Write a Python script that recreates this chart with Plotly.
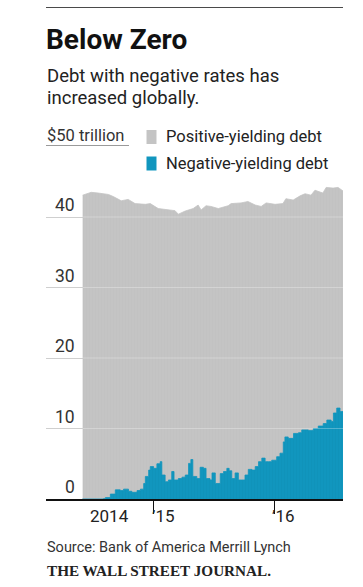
import plotly.graph_objects as go

# ---- data ----
total_dates = [
    "2014-05-30", "2014-06-25", "2014-07-16", "2014-08-16", "2014-08-31",
    "2014-09-24", "2014-10-15", "2014-11-05", "2014-12-06", "2014-12-21",
    "2015-01-14", "2015-02-13", "2015-03-06", "2015-03-16", "2015-04-06",
    "2015-04-30", "2015-05-15", "2015-05-24", "2015-06-08", "2015-06-23",
    "2015-07-15", "2015-08-14", "2015-08-23", "2015-09-22", "2015-10-13",
    "2015-11-04", "2015-11-22", "2015-12-07", "2016-01-03", "2016-01-27",
    "2016-02-05", "2016-02-27", "2016-03-19", "2016-04-03", "2016-04-21",
    "2016-05-03", "2016-05-27", "2016-06-06", "2016-06-27", "2016-07-12",
    "2016-07-27",
]
total_debt = [
    43.1, 43.5, 43.4, 43.2, 42.9,
    42.3, 42.5, 41.9, 41.8, 41.9,
    41.2, 41.0, 40.9, 40.4, 40.85,
    41.2, 41.7, 41.0, 41.6, 41.5,
    41.2, 41.6, 41.9, 42.0, 42.2,
    41.7, 41.5, 42.0, 41.8, 41.9,
    42.6, 42.4, 43.0, 43.3, 43.1,
    43.8, 43.4, 44.2, 44.1, 44.2,
    43.7,
]

neg_dates = [
    "2014-05-29", "2014-08-01", "2014-08-07", "2014-08-22", "2014-09-06",
    "2014-09-21", "2014-10-01", "2014-10-16", "2014-10-26", "2014-11-11",
    "2014-11-21", "2014-12-01", "2014-12-06", "2014-12-16", "2014-12-21",
    "2014-12-31", "2015-01-10", "2015-01-20", "2015-01-25", "2015-02-04",
    "2015-02-14", "2015-02-24", "2015-03-03", "2015-03-16", "2015-03-27",
    "2015-04-06", "2015-04-16", "2015-04-23", "2015-04-29", "2015-05-11",
    "2015-05-21", "2015-05-31", "2015-06-08", "2015-06-20", "2015-06-26",
    "2015-07-06", "2015-07-21", "2015-07-31", "2015-08-10", "2015-08-17",
    "2015-08-25", "2015-09-04", "2015-09-14", "2015-09-24", "2015-10-04",
    "2015-10-14", "2015-10-25", "2015-11-04", "2015-11-14", "2015-11-24",
    "2015-12-04", "2015-12-14", "2015-12-24", "2016-01-08", "2016-01-18",
    "2016-01-28", "2016-02-02", "2016-02-12", "2016-02-28", "2016-03-14",
    "2016-03-24", "2016-04-13", "2016-04-28", "2016-05-13", "2016-05-28",
    "2016-06-08", "2016-06-21", "2016-06-28", "2016-07-08", "2016-07-18",
    "2016-07-27",
]
negative_debt = [
    0.0, 0.05, 0.2, 0.7, 1.3,
    1.2, 1.4, 1.1, 0.95, 1.2,
    1.4, 2.2, 3.2, 4.1, 4.6,
    4.35, 5.0, 5.3, 3.4, 2.45,
    2.7, 3.9, 2.7, 2.9, 3.1,
    3.4, 5.05, 5.6, 3.2, 2.9,
    4.5, 4.35, 2.9, 2.7, 3.7,
    2.2, 3.6, 3.9, 4.35, 4.0,
    2.9, 3.7, 2.7, 2.7, 3.4,
    4.2, 4.1, 4.6, 5.3, 5.8,
    5.3, 5.3, 5.5, 6.0, 6.5,
    8.1, 8.8, 8.6, 9.3, 9.4,
    9.8, 9.7, 10.0, 10.35, 10.7,
    11.2, 11.0, 12.2, 12.9, 12.4,
    12.2,
]

y_tick_values = [0, 10, 20, 30, 40]
y_tick_labels = ["0", "10", "20", "30", "40"]
x_tick_dates = ["2015-01-01", "2016-01-01"]
x_label_dates = ["2014-08-18", "2015-01-15", "2016-01-15"]
x_labels = ["2014", "\u201915", "\u201916"]

# ---- layout geometry (pixels) ----
W, H = 363, 587
L, R, T, B = 46, 20, 180, 88
PW, PH = W - L - R, H - T - B


def px(x):
    return (x - L) / PW


def py(y):
    return (H - B - y) / PH


GRAY = "#c4c4c4"
BLUE = "#1196be"
FONT = "Roboto"

fig = go.Figure()
fig.add_trace(go.Scatter(
    x=total_dates, y=total_debt, mode="lines", fill="tozeroy",
    line=dict(color=GRAY, width=0.8), fillcolor=GRAY,
    fillpattern=dict(shape="|", size=3, solidity=0.2,
                     fgcolor="#bbbbbb", bgcolor=GRAY, fillmode="overlay"),
    hoverinfo="skip", name="Positive-yielding debt",
))
fig.add_trace(go.Scatter(
    x=neg_dates, y=negative_debt, mode="lines", fill="tozeroy",
    line=dict(color=BLUE, width=0.8, shape="hv"), fillcolor=BLUE,
    fillpattern=dict(shape="|", size=3, solidity=0.2,
                     fgcolor="#0c8bb2", bgcolor=BLUE, fillmode="overlay"),
    hoverinfo="skip", name="Negative-yielding debt",
))

shapes = []
# top rule
shapes.append(dict(type="line", xref="paper", yref="paper",
                   x0=px(46), x1=px(343), y0=py(7.5), y1=py(7.5),
                   line=dict(color="#4a4a4a", width=1.2)))
# underline under unit label
shapes.append(dict(type="line", xref="paper", yref="paper",
                   x0=px(46), x1=px(129), y0=py(145.5), y1=py(145.5),
                   line=dict(color="#9a9a9a", width=1)))
# legend swatches
shapes.append(dict(type="rect", xref="paper", yref="paper",
                   x0=px(146.5), x1=px(156.5), y0=py(130), y1=py(144),
                   fillcolor=GRAY, line=dict(width=0)))
shapes.append(dict(type="rect", xref="paper", yref="paper",
                   x0=px(146.5), x1=px(156.5), y0=py(156.5), y1=py(170.5),
                   fillcolor=BLUE, line=dict(width=0)))
# faint gridlines over the data
for v in y_tick_values[1:]:
    shapes.append(dict(type="line", xref="x", yref="y",
                       x0=total_dates[0], x1=total_dates[-1], y0=v, y1=v,
                       line=dict(color="rgba(255,255,255,0.28)", width=1),
                       layer="above"))

ann = []


def text(x, y, s, size, color="#222", anchor="left", family=FONT, yanchor="middle"):
    ann.append(dict(xref="paper", yref="paper", x=px(x), y=py(y), text=s,
                    showarrow=False, xanchor=anchor, yanchor=yanchor,
                    font=dict(family=family, size=size, color=color)))


text(44, 39, "<b>Below Zero</b>", 28, "#111")
text(45, 76, "Debt with negative rates has", 18.5, "#222")
text(45, 98, "increased globally.", 18.5, "#222")
text(45, 135, "$50 trillion", 16.5, "#333")
text(164, 136, "Positive-yielding debt", 16.5, "#222")
text(164, 163, "Negative-yielding debt", 16.5, "#222")
text(45, 547, "Source: Bank of America Merrill Lynch", 14.5, "#333")
text(45, 570, "<b>THE WALL STREET JOURNAL.</b>", 15.2, "#222", family="Liberation Serif")

for v, lab in zip(y_tick_values, y_tick_labels):
    ann.append(dict(xref="paper", yref="y", x=px(77), y=v, text=lab,
                    showarrow=False, xanchor="right", yanchor="bottom", yshift=0,
                    font=dict(family=FONT, size=17.5, color="#333")))

x_anchors = ["center", "left", "left"]
for d, lab, a in zip(x_label_dates, x_labels, x_anchors):
    ann.append(dict(xref="x", yref="paper", x=d, y=0, text=lab,
                    showarrow=False, xanchor=a, yanchor="top", yshift=-5,
                    xshift=0 if a == "center" else -9,
                    font=dict(family=FONT, size=17, color="#222")))

fig.update_layout(
    width=W, height=H,
    margin=dict(l=L, r=R, t=T, b=B, pad=0),
    paper_bgcolor="white", plot_bgcolor="white",
    showlegend=False,
    shapes=shapes, annotations=ann,
    xaxis=dict(type="date", range=["2014-02-08", "2016-07-27"],
               showgrid=False, zeroline=False,
               showline=True, linecolor="#111", linewidth=1.5,
               tickmode="array", tickvals=x_tick_dates, ticks="outside",
               ticklen=13, tickwidth=1, tickcolor="#111",
               showticklabels=False, layer="above traces", fixedrange=True),
    yaxis=dict(range=[0, 45.25], showgrid=True, gridcolor="#cfcfcf", gridwidth=1,
               tickmode="array", tickvals=y_tick_values[1:],
               zeroline=False, showline=False, showticklabels=False,
               fixedrange=True),
)

fig.write_html(
    "out.html",
    config={"displayModeBar": False},
    post_script="document.body.style.margin='0';document.body.style.overflow='hidden';",
)
